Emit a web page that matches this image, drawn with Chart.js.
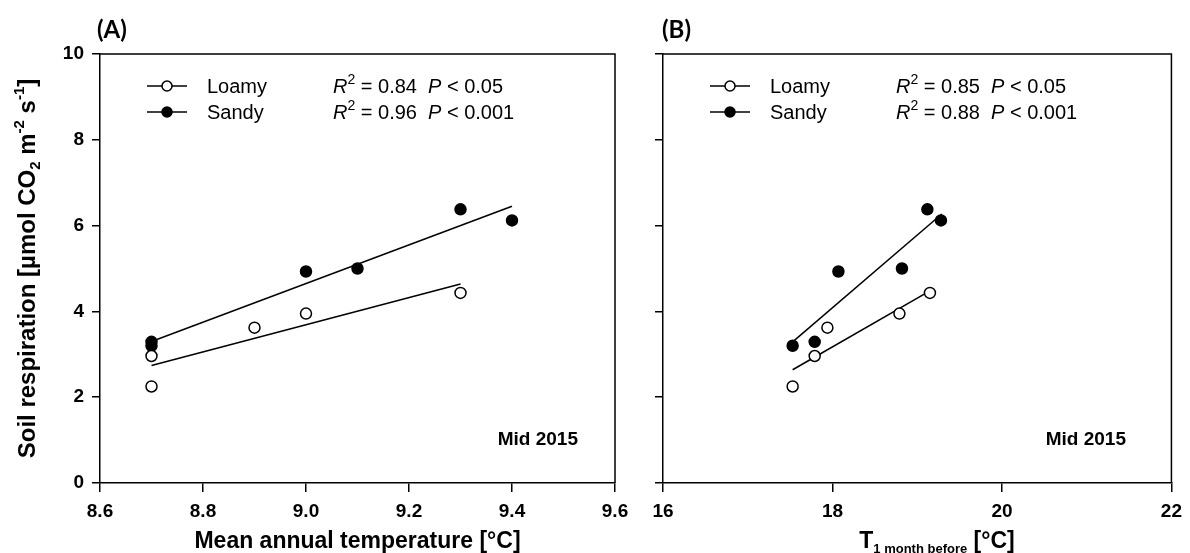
<!DOCTYPE html>
<html>
<head>
<meta charset="utf-8">
<script src="https://cdn.jsdelivr.net/npm/chart.js@4"></script>
<style>
  body { margin:0; background:#fff; }
  canvas { position:absolute; top:0; }
  #chartA { left:0; }
  #chartB { left:640px; }
</style>
</head>
<body>
<canvas id="chartA" width="640" height="553"></canvas>
<canvas id="chartB" width="550" height="553"></canvas>
<script>
// soil respiration, same sites in both panels
const loamyResp = [2.25, 2.96, 3.62, 3.95, 4.43];
const sandyResp = [3.2, 3.29, 4.93, 5.0, 6.38, 6.12];
// (A) mean annual temperature
const loamyMAT = [8.7, 8.7, 8.9, 9.0, 9.3];
const sandyMAT = [8.7, 8.7, 9.0, 9.1, 9.3, 9.4];
// (B) temperature 1 month before
const loamyT1m = [17.53, 17.79, 17.94, 18.79, 19.15];
const sandyT1m = [17.53, 17.79, 18.07, 18.82, 19.12, 19.28];
// regression line end points
const fitALoamyX = [8.7, 9.3],   fitALoamyY = [2.74, 4.64];
const fitASandyX = [8.7, 9.4],   fitASandyY = [3.3, 6.45];
const fitBLoamyX = [17.53, 19.15], fitBLoamyY = [2.64, 4.48];
const fitBSandyX = [17.53, 19.29], fitBSandyY = [3.29, 6.27];
// stats
const seriesNames = ['Loamy', 'Sandy'];
const r2A = ['0.84', '0.96'], pA = ['0.05', '0.001'];
const r2B = ['0.85', '0.88'], pB = ['0.05', '0.001'];

const FONT = "'Liberation Sans', Arial, sans-serif";
Chart.defaults.font.family = FONT;
Chart.defaults.color = '#000';

function pts(xs, ys) { return xs.map((x, i) => ({x: x, y: ys[i]})); }

function drawRuns(ctx, runs, x, y, align) {
  let total = 0;
  runs.forEach(r => { ctx.font = r.font; r.w = ctx.measureText(r.t).width; total += r.w; });
  let cx = align === 'center' ? x - total / 2 : (align === 'right' ? x - total : x);
  runs.forEach(r => { ctx.font = r.font; ctx.fillText(r.t, cx, y + (r.dy || 0)); cx += r.w; });
}

function makeDatasets(lx, sx, flx, fly, fsx, fsy) {
  return [
    {label:'Loamy', data: pts(lx, loamyResp), pointRadius:5.5, pointBackgroundColor:'#fff',
     pointBorderColor:'#000', pointBorderWidth:1.5, order:1},
    {label:'Sandy', data: pts(sx, sandyResp), pointRadius:5.5, pointBackgroundColor:'#000',
     pointBorderColor:'#000', pointBorderWidth:1.5, order:1},
    {label:'Loamy fit', data: pts(flx, fly), showLine:true, borderColor:'#000', borderWidth:1.5, pointRadius:0, order:2},
    {label:'Sandy fit', data: pts(fsx, fsy), showLine:true, borderColor:'#000', borderWidth:1.5, pointRadius:0, order:2}
  ];
}

// frame + texts drawn on top of the chart
function decor(cfg) {
  return {
    id: 'decor',
    afterDraw(chart) {
      const ctx = chart.ctx, a = chart.chartArea;
      ctx.save();
      ctx.strokeStyle = '#000';
      ctx.lineWidth = 1.5;
      ctx.beginPath();
      ctx.moveTo(a.left, a.top); ctx.lineTo(a.right, a.top); ctx.lineTo(a.right, a.bottom);
      ctx.stroke();
      ctx.fillStyle = '#000';
      ctx.textAlign = 'left';
      ctx.textBaseline = 'alphabetic';

      // panel letter
      ctx.font = "bold 24px Lato, " + FONT;
      ctx.fillText(cfg.letter, cfg.letterX, 38);

      // legend
      const rows = [86, 112];
      rows.forEach((ry, i) => {
        const lx = a.left + 47;
        ctx.beginPath();
        ctx.moveTo(lx, ry); ctx.lineTo(lx + 40, ry);
        ctx.stroke();
        ctx.beginPath();
        ctx.arc(lx + 20, ry, 5, 0, Math.PI * 2);
        ctx.fillStyle = i === 0 ? '#fff' : '#000';
        ctx.fill(); ctx.stroke();
        ctx.fillStyle = '#000';
        const base = ry + 7;
        drawRuns(ctx, [{t: seriesNames[i], font: '20px ' + FONT}], a.left + 107, base, 'left');
        drawRuns(ctx, [
          {t: 'R', font: 'italic 20px ' + FONT},
          {t: '2', font: '14px ' + FONT, dy: -9},
          {t: ' = ' + cfg.r2[i] + '  ', font: '20px ' + FONT},
          {t: 'P', font: 'italic 20px ' + FONT},
          {t: ' < ' + cfg.p[i], font: '20px ' + FONT}
        ], a.left + 233, base, 'left');
      });

      // period label
      ctx.font = 'bold 19px ' + FONT;
      ctx.textAlign = 'right';
      ctx.fillText('Mid 2015', cfg.midX, 445);
      ctx.textAlign = 'left';

      // x axis title
      drawRuns(ctx, cfg.xTitle, cfg.xTitleX, 548, 'center');

      // y axis title
      if (cfg.yTitle) {
        ctx.translate(35, (a.top + a.bottom) / 2);
        ctx.rotate(-Math.PI / 2);
        drawRuns(ctx, cfg.yTitle, 0, 0, 'center');
      }
      ctx.restore();
    }
  };
}

function axisX(min, max, step, dec, height) {
  return {
    type:'linear', min:min, max:max,
    ticks: {stepSize: step, autoSkip:false, maxRotation:0, padding:8,
            font:{size:19, weight:'bold'}, callback: v => v.toFixed(dec)},
    grid: {drawOnChartArea:false, drawTicks:true, tickLength:9, color:'#000', lineWidth:1.5},
    border: {color:'#000', width:1.5},
    afterFit: s => { s.height = height; }
  };
}
function axisY(width, showLabels) {
  return {
    type:'linear', min:0, max:10,
    ticks: {stepSize:2, display: showLabels, padding:8, font:{size:19, weight:'bold'}},
    grid: {drawOnChartArea:false, drawTicks:true, tickLength:8, color:'#000', lineWidth:1.5},
    border: {color:'#000', width:1.5},
    afterFit: s => { s.width = width; }
  };
}

const baseOpts = {
  responsive:false, animation:false, devicePixelRatio:1,
  plugins: {legend:{display:false}, tooltip:{enabled:false}}
};

const B = 'bold 23px ' + FONT, BY = 'bold 24px ' + FONT, Bs = 'bold 15px ' + FONT;

new Chart(document.getElementById('chartA'), {
  type:'scatter',
  data: {datasets: makeDatasets(loamyMAT, sandyMAT, fitALoamyX, fitALoamyY, fitASandyX, fitASandyY)},
  options: Object.assign({}, baseOpts, {
    layout: {padding: {left:0, top:54, right:25, bottom:0}},
    scales: {x: axisX(8.6, 9.6, 0.2, 1, 70), y: axisY(100, true)}
  }),
  plugins: [decor({
    letter:'(A)', letterX:97, r2:r2A, p:pA, midX:578,
    xTitleX:357.5,
    xTitle:[{t:'Mean annual temperature [°C]', font:B}],
    yTitle:[
      {t:'Soil respiration [µmol CO', font:BY},
      {t:'2', font:Bs, dy:5},
      {t:' m', font:BY},
      {t:'-2', font:Bs, dy:-11},
      {t:' s', font:BY},
      {t:'-1', font:Bs, dy:-11},
      {t:']', font:BY}
    ]
  })]
});

new Chart(document.getElementById('chartB'), {
  type:'scatter',
  data: {datasets: makeDatasets(loamyT1m, sandyT1m, fitBLoamyX, fitBLoamyY, fitBSandyX, fitBSandyY)},
  options: Object.assign({}, baseOpts, {
    layout: {padding: {left:0, top:54, right:11, bottom:0}},
    scales: {x: axisX(16, 22, 2, 0, 70), y: axisY(23, false)}
  }),
  plugins: [decor({
    letter:'(B)', letterX:22, r2:r2B, p:pB, midX:486,
    xTitleX:297,
    xTitle:[
      {t:'T', font:B},
      {t:'1 month before', font:'bold 13px ' + FONT, dy:5},
      {t:' [°C]', font:B}
    ]
  })]
});
</script>
</body>
</html>
